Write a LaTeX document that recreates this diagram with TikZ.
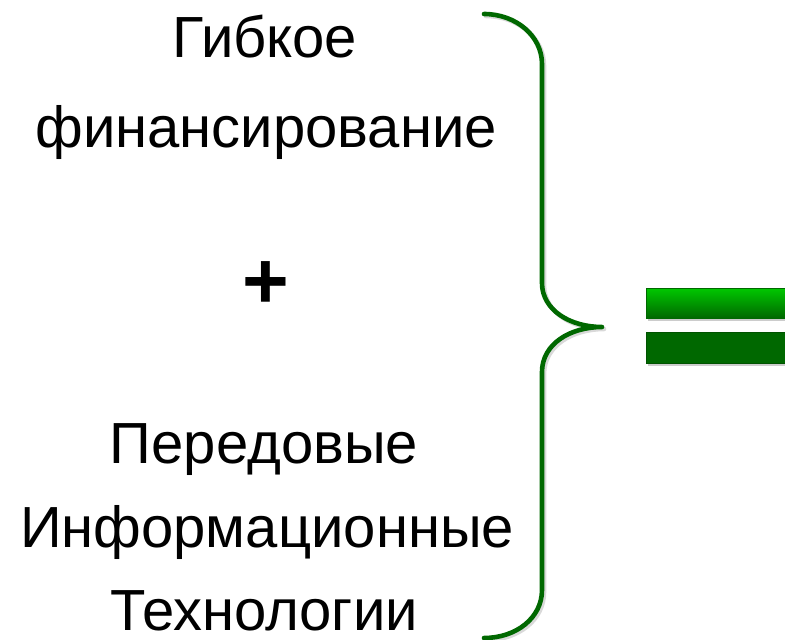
\documentclass[tikz,border=0pt]{standalone}
\usepackage{fontspec}
\setmainfont{Liberation Sans}
\definecolor{bracegreen}{RGB}{0,104,0}
\definecolor{bargreenlight}{RGB}{0,200,0}
\definecolor{bargreendark}{RGB}{0,104,0}
\begin{document}
\begin{tikzpicture}[x=1pt,y=-1pt,
  label/.style={anchor=base,inner sep=0pt,text depth=0pt,font=\fontsize{58}{62}\selectfont},
  plussign/.style={anchor=base,inner sep=0pt,font=\fontsize{80}{84}\selectfont\bfseries},
  bracestyle/.style={draw=bracegreen,line width=4.6pt,line cap=round,line join=round},
  shadowstyle/.style={draw=black!15,line width=4.6pt,line cap=round,line join=round}]
\useasboundingbox (0,0) rectangle (785,640);
% texts
\node[label] (t1) at (265,57) {Гибкое};
\node[label] (t2) at (266,147) {финансирование};
\node[plussign] (plus) at (265.5,308) {+};
\node[label] (t3) at (264,463) {Передовые};
\node[label] (t4) at (267,547) {Информационные};
\node[label] (t5) at (264,630) {Технологии};
% brace shadow
\draw[shadowstyle,shift={(2,2)}] (484,14) .. controls (516,14) and (542,36) .. (542,64)
  -- (542,283) .. controls (542,310) and (570,327) .. (602,327)
  .. controls (570,327) and (542,344) .. (542,372)
  -- (542,590) .. controls (542,618) and (516,638) .. (484,638);
% brace
\draw[bracestyle] (484,14) .. controls (516,14) and (542,36) .. (542,64)
  -- (542,283) .. controls (542,310) and (570,327) .. (602,327)
  .. controls (570,327) and (542,344) .. (542,372)
  -- (542,590) .. controls (542,618) and (516,638) .. (484,638);
% equals sign shadows
\fill[black!20] (648,290) rectangle (790,321);
\fill[black!20] (648,334) rectangle (790,366);
% equals sign bars
\shade[top color=bargreenlight,bottom color=bargreendark,draw=bargreendark,line width=0.8pt]
  (646,288) rectangle (790,318);
\fill[bargreendark,draw=bargreendark!80!black,line width=0.8pt] (646,332) rectangle (790,363);
\end{tikzpicture}
\end{document}
